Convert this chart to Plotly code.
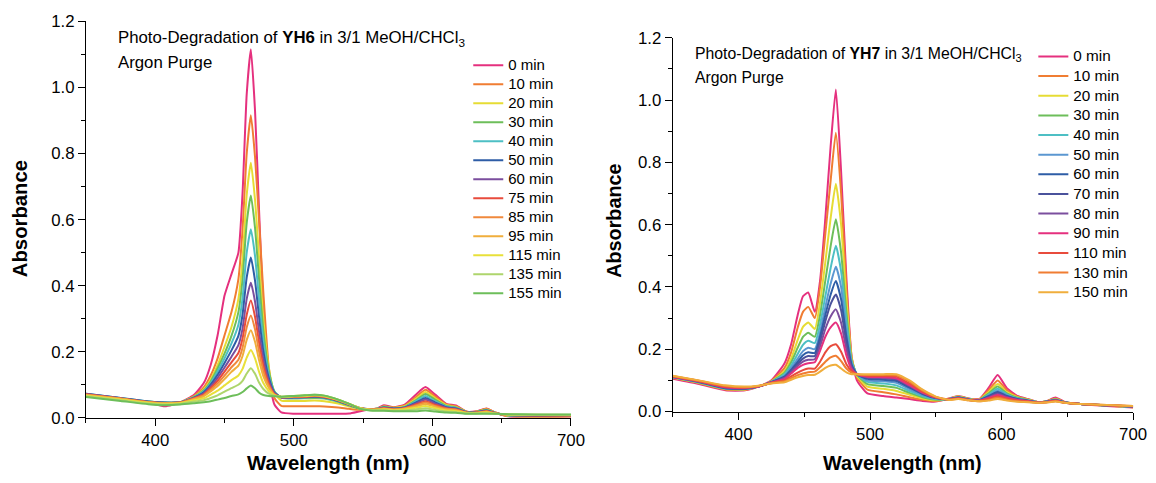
import plotly.graph_objects as go

# ---------------- data: YH6 (left panel) ----------------
WL6 = [350, 375, 395, 407, 418, 428, 435, 440, 445, 450, 455, 460, 463, 466, 469,
       472, 475, 478, 482, 486, 491, 500, 508, 515, 522, 532, 540, 548, 555, 560,
       565, 572, 580, 588, 595, 602, 610, 617, 625, 632, 639, 646, 655, 675, 700]

LABELS6 = ["0 min", "10 min", "20 min", "30 min", "40 min", "50 min", "60 min",
           "75 min", "85 min", "95 min", "115 min", "135 min", "155 min"]

yh6_0 = [.068,.056,.046,.035,.046,.070,.105,.160,.250,.370,.435,.500,.680,.980,1.116,.930,.620,.330,.120,.040,.016,.012,.012,.012,.012,.012,.013,.020,.025,.028,.038,.032,.040,.070,.093,.070,.042,.037,.018,.020,.028,.015,.004,.002,.004]
yh6_10 = [.070,.058,.048,.045,.047,.066,.092,.128,.180,.250,.320,.420,.570,.800,.916,.790,.590,.380,.150,.060,.036,.035,.035,.035,.034,.031,.027,.024,.026,.027,.035,.031,.037,.062,.085,.064,.040,.035,.018,.019,.027,.015,.005,.003,.004]
yh6_20 = [.070,.058,.048,.045,.047,.064,.086,.116,.160,.215,.275,.360,.480,.675,.772,.660,.480,.300,.150,.075,.052,.051,.051,.052,.050,.043,.034,.027,.026,.027,.034,.030,.035,.057,.078,.059,.038,.033,.017,.018,.025,.014,.006,.004,.005]
yh6_30 = [.071,.059,.049,.046,.047,.063,.083,.110,.150,.195,.248,.320,.420,.590,.673,.575,.415,.265,.140,.080,.060,.058,.059,.060,.058,.048,.037,.028,.026,.027,.033,.029,.033,.053,.072,.055,.036,.031,.017,.018,.024,.014,.007,.005,.005]
yh6_40 = [.073,.060,.049,.046,.047,.062,.080,.105,.140,.180,.225,.282,.362,.500,.571,.490,.355,.232,.130,.078,.062,.060,.061,.063,.060,.050,.038,.028,.026,.027,.032,.028,.032,.050,.066,.050,.034,.030,.016,.017,.023,.014,.007,.006,.006]
yh6_50 = [.073,.060,.049,.046,.047,.061,.077,.100,.130,.166,.204,.248,.312,.425,.485,.415,.302,.202,.120,.076,.062,.061,.062,.064,.061,.051,.039,.029,.026,.026,.031,.028,.031,.046,.060,.046,.032,.028,.016,.017,.022,.013,.008,.006,.006]
yh6_60 = [.072,.059,.048,.045,.047,.060,.074,.095,.121,.152,.185,.220,.270,.360,.409,.352,.258,.178,.110,.074,.062,.062,.063,.065,.062,.052,.040,.029,.026,.026,.030,.027,.030,.043,.055,.043,.030,.027,.016,.016,.021,.013,.008,.007,.007]
yh6_75 = [.071,.058,.048,.045,.046,.059,.071,.090,.112,.140,.168,.196,.240,.312,.355,.306,.226,.158,.102,.072,.062,.063,.064,.066,.063,.053,.040,.029,.025,.026,.029,.026,.029,.040,.050,.039,.028,.025,.015,.016,.020,.013,.008,.007,.007]
yh6_85 = [.070,.058,.047,.044,.046,.058,.068,.085,.104,.128,.153,.176,.212,.274,.310,.268,.199,.142,.096,.070,.063,.064,.065,.067,.064,.053,.041,.029,.025,.025,.028,.025,.028,.037,.046,.036,.027,.024,.015,.015,.019,.013,.009,.008,.007]
yh6_95 = [.069,.057,.047,.044,.045,.056,.065,.080,.096,.117,.139,.158,.187,.236,.265,.230,.173,.126,.090,.069,.063,.065,.066,.068,.065,.054,.041,.029,.025,.025,.027,.024,.027,.034,.042,.033,.025,.022,.015,.015,.018,.012,.009,.008,.008]
yh6_115 = [.067,.055,.045,.042,.044,.053,.059,.070,.082,.098,.114,.128,.148,.182,.205,.180,.138,.105,.081,.068,.064,.066,.067,.069,.066,.055,.042,.029,.024,.024,.025,.023,.025,.030,.036,.029,.022,.020,.014,.014,.016,.012,.010,.009,.008]
yh6_135 = [.065,.053,.043,.040,.042,.049,.053,.060,.068,.079,.090,.100,.112,.134,.150,.133,.106,.087,.073,.067,.064,.066,.068,.070,.067,.055,.042,.028,.023,.023,.023,.021,.022,.025,.029,.024,.019,.017,.013,.013,.014,.012,.010,.009,.009]
yh6_155 = [.063,.051,.041,.038,.040,.044,.047,.050,.055,.060,.066,.071,.078,.089,.098,.089,.076,.069,.066,.065,.064,.066,.068,.070,.067,.055,.042,.027,.022,.021,.021,.020,.020,.020,.022,.019,.016,.015,.012,.012,.012,.012,.011,.010,.010]

SER6 = [yh6_0, yh6_10, yh6_20, yh6_30, yh6_40, yh6_50, yh6_60, yh6_75, yh6_85,
        yh6_95, yh6_115, yh6_135, yh6_155]
COLORS6 = ["#E5307E", "#F07D32", "#E6DC34", "#6DBE5A", "#4DBFC4", "#2E5DA6",
           "#7B4E9E", "#E84B3C", "#F0893C", "#F0AE3C", "#E8E03A", "#AED56C", "#6DBE5A"]

# ---------------- data: YH7 (right panel) ----------------
WL7 = [350, 370, 390, 405, 415, 425, 435, 440, 445, 449, 453, 458, 462, 466, 470,
       474, 478, 482, 486, 490, 498, 510, 520, 530, 540, 550, 560, 567, 575, 583,
       590, 597, 604, 612, 620, 628, 634, 641, 648, 660, 680, 700]

LABELS7 = ["0 min", "10 min", "20 min", "30 min", "40 min", "50 min", "60 min",
           "70 min", "80 min", "90 min", "110 min", "130 min", "150 min"]

yh7_0 = [.105,.088,.068,.068,.080,.100,.155,.216,.310,.370,.382,.320,.420,.620,.850,1.034,.770,.430,.175,.100,.058,.050,.045,.040,.034,.032,.042,.050,.042,.040,.075,.117,.075,.050,.040,.030,.033,.045,.031,.024,.018,.013]
yh7_10 = [.108,.091,.071,.070,.080,.098,.140,.190,.270,.320,.336,.300,.400,.570,.740,.895,.700,.400,.175,.110,.070,.062,.055,.046,.038,.034,.041,.049,.041,.039,.068,.100,.068,.048,.039,.030,.033,.042,.030,.024,.019,.014]
yh7_20 = [.109,.092,.072,.071,.080,.097,.130,.170,.230,.272,.286,.265,.350,.480,.620,.731,.600,.360,.170,.115,.080,.073,.066,.054,.042,.036,.041,.048,.040,.038,.062,.088,.062,.046,.038,.030,.032,.040,.030,.024,.019,.014]
yh7_30 = [.110,.093,.073,.072,.080,.096,.125,.158,.205,.240,.253,.240,.310,.420,.530,.617,.510,.320,.165,.118,.088,.082,.076,.060,.046,.038,.040,.047,.040,.037,.058,.080,.058,.044,.037,.030,.032,.039,.030,.024,.019,.015]
yh7_40 = [.110,.094,.074,.072,.080,.095,.120,.148,.185,.214,.227,.220,.280,.370,.460,.532,.450,.290,.160,.120,.095,.090,.084,.066,.050,.040,.040,.046,.039,.037,.054,.073,.055,.042,.036,.030,.032,.038,.029,.024,.019,.015]
yh7_50 = [.111,.095,.075,.073,.080,.095,.115,.140,.170,.194,.205,.200,.255,.335,.410,.465,.400,.260,.155,.120,.100,.097,.092,.072,.053,.042,.040,.045,.039,.036,.051,.067,.052,.041,.035,.029,.031,.037,.029,.024,.020,.015]
yh7_60 = [.111,.095,.075,.073,.080,.094,.112,.134,.160,.181,.190,.188,.240,.310,.375,.419,.360,.240,.150,.120,.105,.102,.098,.077,.056,.043,.040,.045,.038,.036,.049,.063,.050,.040,.035,.029,.031,.036,.029,.024,.020,.016]
yh7_70 = [.112,.096,.076,.074,.080,.094,.110,.130,.153,.170,.178,.178,.225,.290,.345,.376,.325,.220,.145,.120,.108,.106,.102,.080,.058,.044,.039,.044,.038,.035,.047,.060,.048,.039,.034,.029,.031,.036,.029,.024,.020,.016]
yh7_80 = [.112,.096,.077,.075,.080,.093,.108,.126,.147,.160,.166,.168,.210,.265,.305,.328,.285,.200,.140,.120,.110,.108,.105,.083,.060,.045,.039,.044,.038,.035,.045,.056,.046,.038,.034,.029,.031,.035,.028,.024,.020,.016]
yh7_90 = [.112,.097,.078,.076,.080,.093,.105,.122,.140,.150,.155,.158,.195,.240,.270,.286,.250,.180,.135,.120,.112,.110,.107,.085,.061,.045,.039,.043,.037,.035,.043,.053,.044,.037,.033,.029,.030,.035,.028,.024,.020,.017]
yh7_110 = [.113,.098,.080,.077,.081,.092,.100,.113,.125,.133,.138,.138,.160,.190,.210,.216,.192,.152,.130,.120,.115,.114,.112,.090,.064,.046,.038,.042,.037,.034,.040,.048,.041,.035,.032,.028,.030,.034,.028,.024,.020,.017]
yh7_130 = [.114,.099,.082,.078,.082,.091,.097,.107,.117,.122,.126,.128,.142,.160,.174,.179,.162,.138,.125,.120,.117,.117,.116,.096,.067,.047,.038,.041,.036,.033,.037,.044,.038,.033,.031,.028,.030,.033,.028,.024,.021,.018]
yh7_150 = [.115,.100,.084,.080,.083,.090,.094,.102,.110,.114,.117,.118,.128,.140,.148,.150,.138,.126,.120,.120,.120,.120,.120,.100,.070,.048,.037,.040,.036,.033,.035,.040,.035,.031,.030,.028,.029,.032,.028,.024,.021,.018]

SER7 = [yh7_0, yh7_10, yh7_20, yh7_30, yh7_40, yh7_50, yh7_60, yh7_70, yh7_80,
        yh7_90, yh7_110, yh7_130, yh7_150]
COLORS7 = ["#E5307E", "#F07D32", "#E6DC34", "#6DBE5A", "#4DBFC4", "#5B97D1",
           "#2E5DA6", "#4A529C", "#7B4E9E", "#E5307E", "#E84B3C", "#F07D32", "#F0AE3C"]

FONT = "Arial, 'Liberation Sans', Helvetica, sans-serif"
W, H = 1156, 483


def fx(v):            # pixel x -> paper fraction
    return v / W


def fy(v):            # pixel y (from top) -> paper fraction
    return (H - v) / H


fig = go.Figure()
for name, vals, col in zip(LABELS6, SER6, COLORS6):
    fig.add_trace(go.Scatter(
        x=WL6[:len(vals)], y=vals, mode="lines",
        name="<span style='font-size:15px'>%s</span>" % name,
        line=dict(color=col, width=2, shape="spline", smoothing=0.5),
        xaxis="x", yaxis="y", legend="legend", hoverinfo="skip"))
for name, vals, col in zip(LABELS7, SER7, COLORS7):
    fig.add_trace(go.Scatter(
        x=WL7[:len(vals)], y=vals, mode="lines",
        name="<span style='font-size:15.3px'>%s</span>" % name,
        line=dict(color=col, width=2, shape="spline", smoothing=0.5),
        xaxis="x2", yaxis="y2", legend="legend2", hoverinfo="skip"))


def xax(domain, anchor):
    return dict(domain=domain, anchor=anchor, range=[350, 700], dtick=100, tick0=0,
                showline=True, linecolor="black", linewidth=1.2, mirror=False,
                ticks="outside", ticklen=7, tickwidth=1.2, tickcolor="black",
                showgrid=False, zeroline=False, ticklabelstandoff=0,
                tickfont=dict(family=FONT, size=16.8, color="black"),
                minor=dict(dtick=50, tick0=0, ticks="outside", ticklen=4,
                           tickwidth=1.2, tickcolor="black", showgrid=False))


def yax(domain, anchor):
    return dict(domain=domain, anchor=anchor, range=[0, 1.2], dtick=0.2, tick0=0,
                tickformat=".1f",
                showline=True, linecolor="black", linewidth=1.2, mirror=False,
                ticks="outside", ticklen=7, tickwidth=1.2, tickcolor="black",
                showgrid=False, zeroline=False,
                tickfont=dict(family=FONT, size=16.8, color="black"),
                minor=dict(dtick=0.1, tick0=0, ticks="outside", ticklen=4,
                           tickwidth=1.2, tickcolor="black", showgrid=False))


annotations = [
    dict(text="Photo-Degradation of <b>YH6</b> in 3/1 MeOH/CHCl<sub>3</sub>",
         x=fx(117), y=fy(30.5), xanchor="left", yanchor="middle",
         font=dict(family=FONT, size=16.8, color="black")),
    dict(text="Argon Purge", x=fx(117), y=fy(56), xanchor="left", yanchor="middle",
         font=dict(family=FONT, size=16.8, color="black")),
    dict(text="Photo-Degradation of <b>YH7</b> in 3/1 MeOH/CHCl<sub>3</sub>",
         x=fx(702), y=fy(47.5), xanchor="left", yanchor="middle",
         font=dict(family=FONT, size=15.8, color="black")),
    dict(text="Argon Purge", x=fx(702), y=fy(71), xanchor="left", yanchor="middle",
         font=dict(family=FONT, size=15.8, color="black")),
    dict(text="<b>Wavelength (nm)</b>", x=fx(333), y=fy(473), xanchor="center",
         yanchor="middle", font=dict(family=FONT, size=20.3, color="black")),
    dict(text="<b>Wavelength (nm)</b>", x=fx(914), y=fy(473), xanchor="center",
         yanchor="middle", font=dict(family=FONT, size=19.8, color="black")),
    dict(text="<b>Absorbance</b>", x=fx(21), y=fy(218), xanchor="center",
         yanchor="middle", textangle=-90, font=dict(family=FONT, size=20.3, color="black")),
    dict(text="<b>Absorbance</b>", x=fx(622), y=fy(220), xanchor="center",
         yanchor="middle", textangle=-90, font=dict(family=FONT, size=19.8, color="black")),
]
for a in annotations:
    a.update(xref="paper", yref="paper", showarrow=False)

fig.update_layout(
    width=W, height=H, margin=dict(l=0, r=0, t=0, b=0),
    paper_bgcolor="white", plot_bgcolor="white",
    font=dict(family=FONT, color="black"),
    showlegend=True, hovermode=False,
    xaxis=xax([fx(87), fx(578)], "y"),
    yaxis=yax([fy(425.5), fy(13)], "x"),
    xaxis2=xax([fx(681), fx(1147)], "y2"),
    yaxis2=yax([fy(419), fy(30)], "x2"),
    legend=dict(x=fx(474), y=fy(43.5), xanchor="left", yanchor="top",
                font=dict(family=FONT, size=11.5, color="black"),
                bgcolor="rgba(0,0,0,0)", borderwidth=0, itemwidth=30,
                tracegroupgap=0),
    legend2=dict(x=fx(1046), y=fy(34), xanchor="left", yanchor="top",
                 font=dict(family=FONT, size=12.8, color="black"),
                 bgcolor="rgba(0,0,0,0)", borderwidth=0, itemwidth=30,
                 tracegroupgap=0),
    annotations=annotations,
)

fig.write_html("out.html", config={"displayModeBar": False, "responsive": False})
